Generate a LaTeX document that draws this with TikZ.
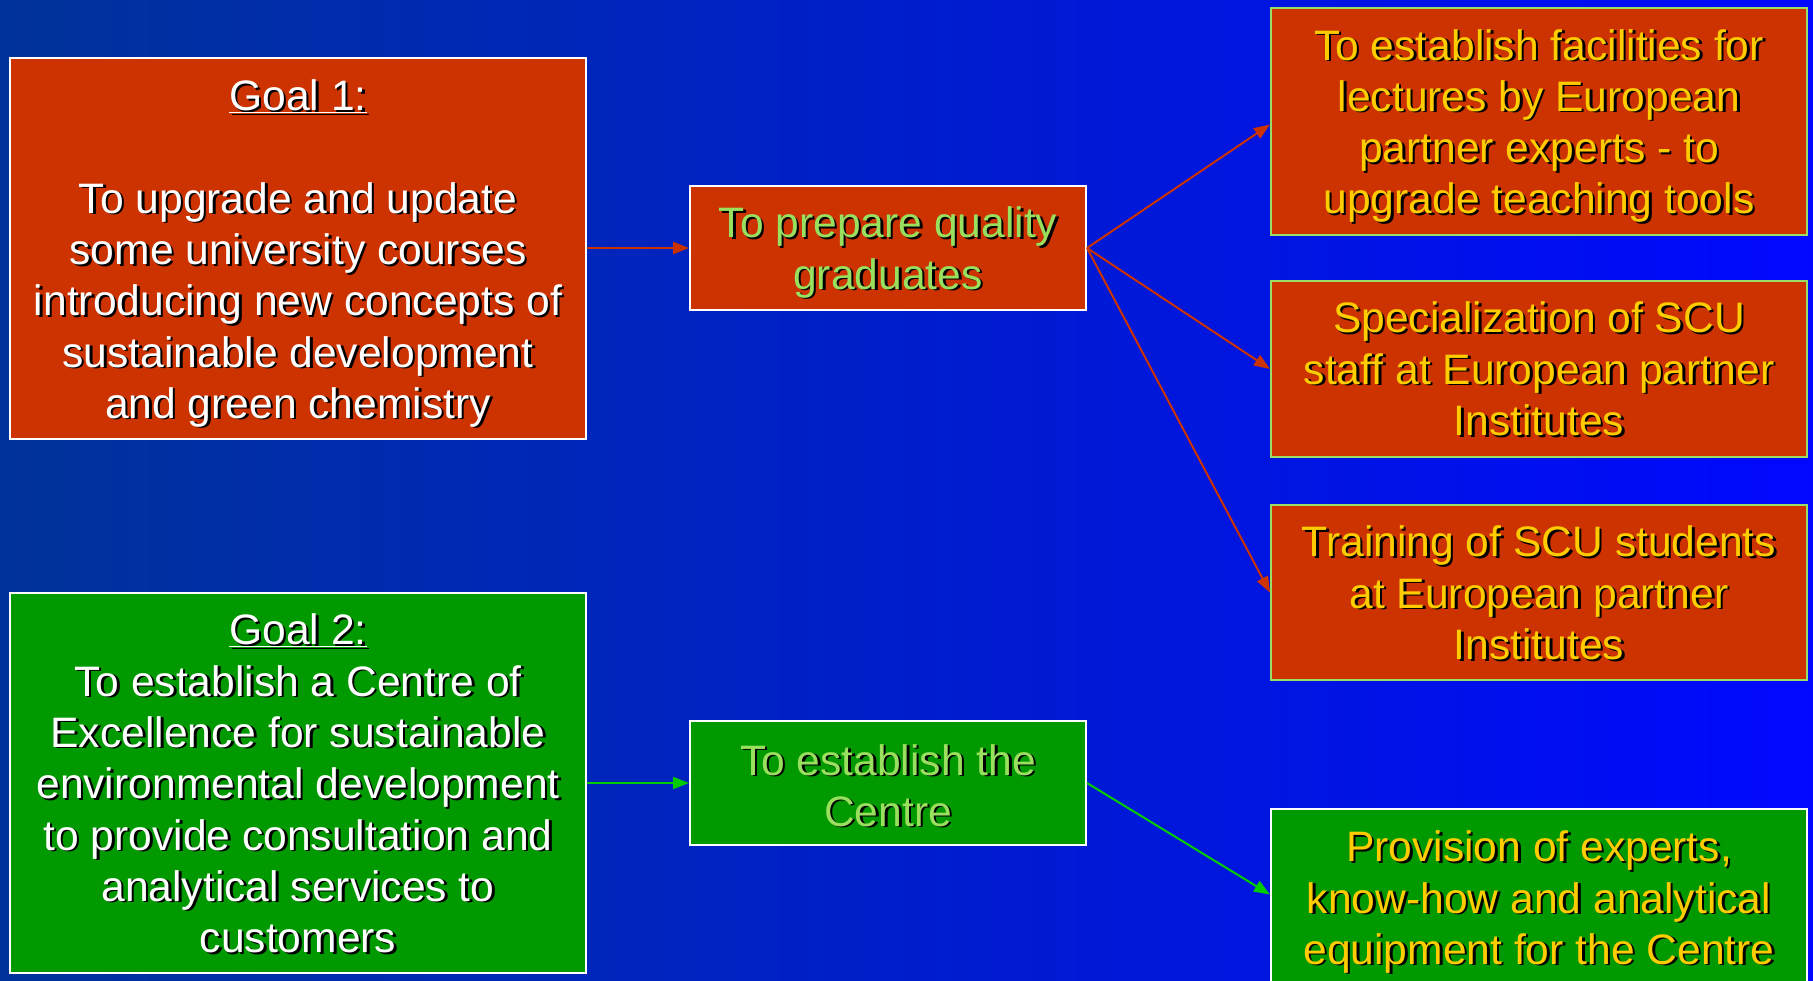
\documentclass[tikz,border=0pt]{standalone}
\usepackage{fontspec}
\setmainfont{Liberation Sans}
\usetikzlibrary{arrows.meta,calc}
\definecolor{bgleft}{RGB}{0,51,153}
\definecolor{bgright}{RGB}{0,8,255}
\definecolor{boxred}{RGB}{204,51,0}
\definecolor{boxgreen}{RGB}{0,153,0}
\definecolor{txtgreen}{RGB}{153,224,95}
\definecolor{txtyellow}{RGB}{255,204,0}
\definecolor{bordgreen}{RGB}{153,221,102}
\definecolor{arrred}{RGB}{204,51,0}
\definecolor{arrgreen}{RGB}{0,204,0}
\tikzset{
  box/.style={draw, line width=2pt, inner sep=0pt, anchor=north west},
  redbox/.style={box, fill=boxred},
  greenbox/.style={box, fill=boxgreen},
  txt/.style={align=center, inner sep=0pt, font=\fontsize{42.6}{51.3}\selectfont},
  shadowtxt/.style={txt, text=black},
  redarrow/.style={draw=arrred, line width=2pt, -{Triangle[length=16pt,width=12pt]}},
  greenarrow/.style={draw=arrgreen, line width=2pt, -{Triangle[length=16pt,width=12pt]}}
}
\begin{document}
\begin{tikzpicture}[x=1pt,y=-1pt]
\shade[left color=bgleft, right color=bgright] (0,0) rectangle (1813,981);
\useasboundingbox (0,0) rectangle (1813,981);

% boxes
\node[redbox, draw=white, minimum width=576pt, minimum height=381pt] (g1) at (9,57) {};
\node[greenbox, draw=white, minimum width=576pt, minimum height=380pt] (g2) at (9,592) {};
\node[redbox, draw=white, minimum width=396pt, minimum height=124pt] (p) at (689,185) {};
\node[greenbox, draw=white, minimum width=396pt, minimum height=124pt] (e) at (689,720) {};
\node[redbox, draw=bordgreen, minimum width=536pt, minimum height=227pt] (r1) at (1270,7) {};
\node[redbox, draw=bordgreen, minimum width=536pt, minimum height=176pt] (r2) at (1270,280) {};
\node[redbox, draw=bordgreen, minimum width=536pt, minimum height=175pt] (r3) at (1270,504) {};
\node[greenbox, draw=white, minimum width=536pt, minimum height=185pt] (r4) at (1270,808) {};

% texts
\def\gonetext{\underline{Goal 1:}\\ \\To upgrade and update\\some university courses\\introducing new concepts of\\sustainable development\\and green chemistry}
\def\gtwotext{\underline{Goal 2:}\\To establish a Centre of\\Excellence for sustainable\\environmental development\\to provide consultation and\\analytical services to\\customers}
\node[shadowtxt] (g1s) at ($(g1.center)+(2.5,6.5)$) {\gonetext};
\node[txt, text=white] (g1t) at ($(g1.center)+(0,5)$) {\gonetext};
\node[shadowtxt] (g2s) at ($(g2.center)+(2.5,2)$) {\gtwotext};
\node[txt, text=white] (g2t) at ($(g2.center)+(0,0.5)$) {\gtwotext};

\node[shadowtxt] (ps) at ($(p.center)+(2.5,6)$) {To prepare quality\\graduates};
\node[txt, text=txtgreen] (pt) at ($(p.center)+(0,4.5)$) {To prepare quality\\graduates};
\node[shadowtxt] (es) at ($(e.center)+(2.5,4)$) {To establish the\\Centre};
\node[txt, text=txtgreen] (et) at ($(e.center)+(0,2.5)$) {To establish the\\Centre};

\node[shadowtxt] (r1s) at ($(r1.center)+(2.5,6)$) {To establish facilities for\\lectures by European\\partner experts - to\\upgrade teaching tools};
\node[txt, text=txtyellow] (r1t) at ($(r1.center)+(0,4.5)$) {To establish facilities for\\lectures by European\\partner experts - to\\upgrade teaching tools};
\node[shadowtxt] (r2s) at ($(r2.center)+(2.5,1.5)$) {Specialization of SCU\\staff at European partner\\Institutes};
\node[txt, text=txtyellow] (r2t) at ($(r2.center)+(0,0)$) {Specialization of SCU\\staff at European partner\\Institutes};
\node[shadowtxt] (r3s) at ($(r3.center)+(2.5,2)$) {Training of SCU students\\at European partner\\Institutes};
\node[txt, text=txtyellow] (r3t) at ($(r3.center)+(0,0.5)$) {Training of SCU students\\at European partner\\Institutes};
\node[shadowtxt] (r4s) at ($(r4.center)+(2.5,2)$) {Provision of experts,\\know-how and analytical\\equipment for the Centre};
\node[txt, text=txtyellow] (r4t) at ($(r4.center)+(0,0.5)$) {Provision of experts,\\know-how and analytical\\equipment for the Centre};

% arrows
\draw[redarrow] (g1.east |- p.west) -- (p.west);
\draw[redarrow] (p.east) -- ($(r1.west)+(0,3)$);
\draw[redarrow] (p.east) -- (r2.west);
\draw[redarrow] (p.east) -- (r3.west);
\draw[greenarrow] (g2.east |- e.west) -- (e.west);
\draw[greenarrow] (e.east) -- ($(r4.west)+(0,-7)$);
\end{tikzpicture}
\end{document}
